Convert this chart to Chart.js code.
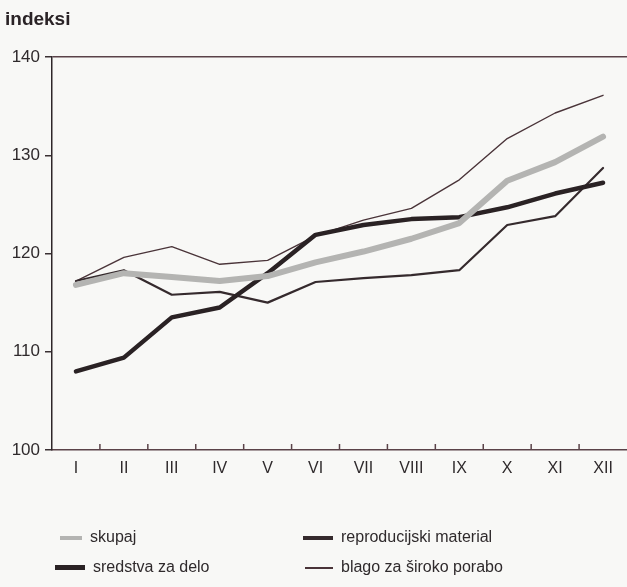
<!DOCTYPE html>
<html>
<head>
<meta charset="utf-8">
<script src="https://cdn.jsdelivr.net/npm/chart.js@4/dist/chart.umd.min.js"></script>
<style>
  html, body { margin: 0; padding: 0; background: #f8f8f6; }
  #wrap { position: relative; width: 627px; height: 587px; overflow: hidden; }
  #chart { position: absolute; left: 0; top: 0; }
  #title { position: absolute; left: 5px; top: 8px; font: bold 19px "Liberation Sans", Arial, sans-serif; color: #2a2326; }
  .leg { position: absolute; font: 16px "Liberation Sans", Arial, sans-serif; color: #2f2a2c; white-space: nowrap; }
  .leg span { display: inline-block; vertical-align: middle; margin-right: 8px; }
</style>
</head>
<body>
<div id="wrap">
  <canvas id="chart" width="627" height="587"></canvas>
  <div id="title">indeksi</div>
  <div id="legend"></div>
</div>
<script>
// months on the x axis
const months = ['I', 'II', 'III', 'IV', 'V', 'VI', 'VII', 'VIII', 'IX', 'X', 'XI', 'XII'];
const yTicks = [100, 110, 120, 130, 140];

// indeksi
const skupaj = [116.8, 118.0, 117.6, 117.2, 117.7, 119.1, 120.2, 121.5, 123.1, 127.4, 129.3, 131.9];
const sredstvaZaDelo = [108.0, 109.4, 113.5, 114.5, 118.0, 121.9, 122.9, 123.5, 123.7, 124.7, 126.1, 127.2];
const reproMaterial = [117.2, 118.3, 115.8, 116.1, 115.0, 117.1, 117.5, 117.8, 118.3, 122.9, 123.8, 128.7];
const blagoPoraba = [117.2, 119.6, 120.7, 118.9, 119.3, 121.8, 123.4, 124.6, 127.5, 131.7, 134.3, 136.1];

const series = [
    { label: 'skupaj', data: skupaj, color: '#b4b4b2', width: 6, legW: 22, legH: 4 },
    { label: 'sredstva za delo', data: sredstvaZaDelo, color: '#2a2224', width: 4.5, legW: 30, legH: 5 },
    { label: 'reproducijski material', data: reproMaterial, color: '#352a2d', width: 2.2, legW: 30, legH: 4 },
    { label: 'blago za široko porabo', data: blagoPoraba, color: '#4a3439', width: 1.4, legW: 28, legH: 1.5 },
];

// small inward ticks between months on the base line
const innerTicks = {
    id: 'innerTicks',
    afterDraw(chart) {
        const x = chart.scales.x, area = chart.chartArea, c = chart.ctx;
        c.save();
        c.strokeStyle = '#5a4248';
        c.lineWidth = 1.5;
        for (let i = 1; i < months.length; i++) {
            const px = (x.getPixelForTick(i - 1) + x.getPixelForTick(i)) / 2;
            c.beginPath();
            c.moveTo(px, area.bottom);
            c.lineTo(px, area.bottom - 6);
            c.stroke();
        }
        c.restore();
    }
};

new Chart(document.getElementById('chart'), {
    type: 'line',
    data: {
        labels: months,
        datasets: series.map(s => ({
            label: s.label,
            data: s.data,
            borderColor: s.color,
            borderWidth: s.width,
            pointRadius: 0,
            fill: false,
            tension: 0,
            borderJoinStyle: 'round',
            borderCapStyle: 'round',
        })),
    },
    options: {
        responsive: false,
        animation: false,
        layout: { padding: { top: 57, right: 0, left: 0, bottom: 0 } },
        plugins: { legend: { display: false }, tooltip: { enabled: false } },
        scales: {
            x: {
                offset: true,
                afterFit: s => { s.height = 137; },
                grid: { drawOnChartArea: false, drawTicks: false },
                border: { color: '#5a4248', width: 1.5 },
                ticks: { color: '#2f2a2c', padding: 9, font: { family: 'Liberation Sans', size: 16 } },
            },
            y: {
                min: 100,
                max: 140,
                afterFit: s => { s.width = 52; },
                afterBuildTicks: s => { s.ticks = yTicks.map(v => ({ value: v })); },
                grid: {
                    drawOnChartArea: true,
                    color: ctx => ctx.tick && ctx.tick.value === 140 ? '#5a4248' : 'rgba(0,0,0,0)',
                    lineWidth: 1.5,
                    tickColor: '#3a3033',
                    tickLength: 7,
                },
                border: { color: '#2e2629', width: 1.5 },
                ticks: { color: '#2f2a2c', padding: 5, font: { family: 'Liberation Sans', size: 17 } },
            },
        },
    },
    plugins: [innerTicks],
});

// legend in two columns under the chart
const legPos = [[60, 528], [55, 558], [303, 528], [305, 558]];
const legend = document.getElementById('legend');
series.forEach((s, i) => {
    const d = document.createElement('div');
    d.className = 'leg';
    d.style.left = legPos[i][0] + 'px';
    d.style.top = legPos[i][1] + 'px';
    const sw = document.createElement('span');
    sw.style.width = s.legW + 'px';
    sw.style.height = s.legH + 'px';
    sw.style.background = s.color;
    d.appendChild(sw);
    d.appendChild(document.createTextNode(s.label));
    legend.appendChild(d);
});
</script>
</body>
</html>
